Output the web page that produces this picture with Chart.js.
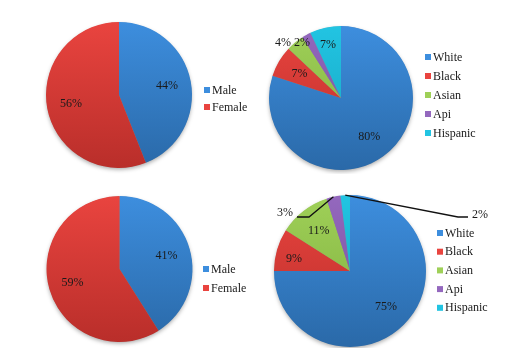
<!DOCTYPE html>
<html>
<head>
<meta charset="utf-8">
<script src="https://cdn.jsdelivr.net/npm/chart.js@4/dist/chart.umd.min.js"></script>
<style>
  body { margin: 0; background: #fff; }
  #wrap { position: relative; width: 509px; height: 348px; overflow: hidden; }
  canvas { position: absolute; }
</style>
</head>
<body>
<div id="wrap">
  <canvas id="c1" width="255" height="174" style="left:0;top:0"></canvas>
  <canvas id="c2" width="254" height="174" style="left:255px;top:0"></canvas>
  <canvas id="c3" width="255" height="174" style="left:0;top:174px"></canvas>
  <canvas id="c4" width="254" height="174" style="left:255px;top:174px"></canvas>
</div>
<script>
// data
var genderLabels = ['Male', 'Female'];
var raceLabels = ['White', 'Black', 'Asian', 'Api', 'Hispanic'];
var gender1 = [44, 56];
var race1 = [80, 7, 4, 2, 7];
var gender2 = [41, 59];
var race2 = [75, 9, 11, 3, 2];

// colours: [top, bottom] of each slice gradient
var shades = [
  ['#3d8ede', '#2a69a8'],
  ['#e9443f', '#b92e2a'],
  ['#9fd058', '#7eae3d'],
  ['#9468be', '#754e99'],
  ['#22c4e2', '#15a2be']
];
var FONT = "'Liberation Serif', 'Times New Roman', serif";

function fill(ctx) {
  var c = ctx.chart, a = c.chartArea, s = shades[ctx.dataIndex];
  if (!a) return s[0];
  var g = c.ctx.createLinearGradient(0, a.top, 0, a.bottom);
  g.addColorStop(0, s[0]);
  g.addColorStop(1, s[1]);
  return g;
}

// labels, leaders, shadow and side legend
var piePlugin = {
  id: 'piePlugin',
  beforeDatasetsDraw: function(chart) {
    var arc = chart.getDatasetMeta(0).data[0];
    var ctx = chart.ctx;
    ctx.save();
    ctx.shadowColor = 'rgba(0,0,0,0.35)';
    ctx.shadowBlur = 4;
    ctx.shadowOffsetY = 2;
    ctx.fillStyle = '#888';
    ctx.beginPath();
    ctx.arc(arc.x, arc.y, arc.outerRadius - 0.5, 0, Math.PI * 2);
    ctx.fill();
    ctx.restore();
  },
  afterDraw: function(chart, args, opts) {
    var ctx = chart.ctx;
    var meta = chart.getDatasetMeta(0);
    var vals = chart.data.datasets[0].data;
    var total = vals.reduce(function(a, b) { return a + b; }, 0);
    ctx.save();
    ctx.font = '12px ' + FONT;
    ctx.fillStyle = '#1a1a1a';
    ctx.textBaseline = 'middle';
    ctx.textAlign = 'center';
    meta.data.forEach(function(el, i) {
      var mid = (el.startAngle + el.endAngle) / 2;
      var r = el.outerRadius;
      var txt = Math.round(vals[i] / total * 100) + '%';
      var leader = opts.leaders && opts.leaders[i];
      var pos = opts.pos && opts.pos[i];
      if (leader) {
        ctx.strokeStyle = '#111';
        ctx.lineWidth = 1.3;
        ctx.beginPath();
        ctx.moveTo(el.x + Math.cos(mid) * r, el.y + Math.sin(mid) * r);
        leader.forEach(function(p) { ctx.lineTo(el.x + p[0], el.y + p[1]); });
        ctx.stroke();
      }
      var x, y;
      if (pos) { x = el.x + pos[0]; y = el.y + pos[1]; }
      else { x = el.x + Math.cos(mid) * r * 0.67; y = el.y + Math.sin(mid) * r * 0.67; }
      ctx.fillText(txt, x, y);
    });
    // legend
    ctx.textAlign = 'left';
    chart.data.labels.forEach(function(lab, i) {
      var y = opts.legY + i * opts.legGap;
      ctx.fillStyle = shades[i][0];
      ctx.fillRect(opts.legX, y - 3, 6, 6);
      ctx.fillStyle = '#1a1a1a';
      ctx.fillText(lab, opts.legX + 8, y + 0.5);
    });
    ctx.restore();
  }
};

function makePie(id, labels, values, pad, opts) {
  return new Chart(document.getElementById(id), {
    type: 'pie',
    data: {
      labels: labels,
      datasets: [{ data: values, backgroundColor: fill, borderWidth: 0 }]
    },
    options: {
      responsive: false,
      animation: false,
      layout: { padding: pad },
      plugins: { legend: { display: false }, tooltip: { enabled: false }, piePlugin: opts }
    },
    plugins: [piePlugin]
  });
}

makePie('c1', genderLabels, gender1,
  { left: 46, right: 63, top: 22, bottom: 6 },
  { legX: 204, legY: 90, legGap: 17 });

makePie('c2', raceLabels, race1,
  { left: 14, right: 96, top: 26, bottom: 4 },
  { legX: 170, legY: 57, legGap: 19,
    pos: [null, null, [-58, -55], [-39, -55], [-13, -53]] });

makePie('c3', genderLabels, gender2,
  { left: 46, right: 62, top: 22, bottom: 6 },
  { legX: 203, legY: 95, legGap: 19 });

makePie('c4', raceLabels, race2,
  { left: 19, right: 83, top: 21, bottom: 1 },
  { legX: 182, legY: 59, legGap: 18.7,
    pos: [null, [-56, -12], null, [-65, -58], [130, -56]],
    leaders: [null, null, null, [[-41, -54], [-53, -54]], [[108, -54], [118, -54]]] });
</script>
</body>
</html>
